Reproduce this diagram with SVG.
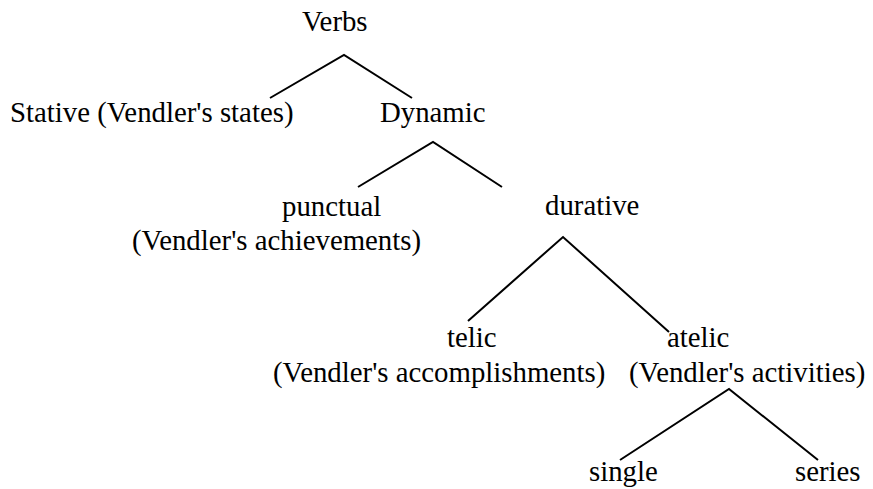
<svg xmlns="http://www.w3.org/2000/svg" width="873" height="489" viewBox="0 0 873 489">
<style>
text { font-family: "Liberation Serif", "Times New Roman", serif; font-size: 28.8px; fill: #000; }
.edge { stroke: #000; stroke-width: 2; fill: none; }
</style>
<rect width="873" height="489" fill="#fff"/>
<g id="connectors">
<polyline class="edge" points="270,98 344,55 412,98"/>
<polyline class="edge" points="358,187 433,142 502,187"/>
<polyline class="edge" points="468,321 563,237 669,332"/>
<polyline class="edge" points="620,460 729,389 818,460"/>
</g>
<g id="verbs"><text x="302" y="31">Verbs</text></g>
<g id="stative"><text x="10" y="122">Stative (Vendler's states)</text></g>
<g id="dynamic"><text x="380" y="122">Dynamic</text></g>
<g id="punctual"><text x="282" y="216">punctual</text><text x="132" y="250">(Vendler's achievements)</text></g>
<g id="durative"><text x="545" y="215">durative</text></g>
<g id="telic"><text x="447" y="347">telic</text><text x="273" y="382">(Vendler's accomplishments)</text></g>
<g id="atelic"><text x="667" y="347">atelic</text><text x="629" y="382">(Vendler's activities)</text></g>
<g id="single"><text x="589" y="481">single</text></g>
<g id="series"><text x="795" y="481">series</text></g>
</svg>
